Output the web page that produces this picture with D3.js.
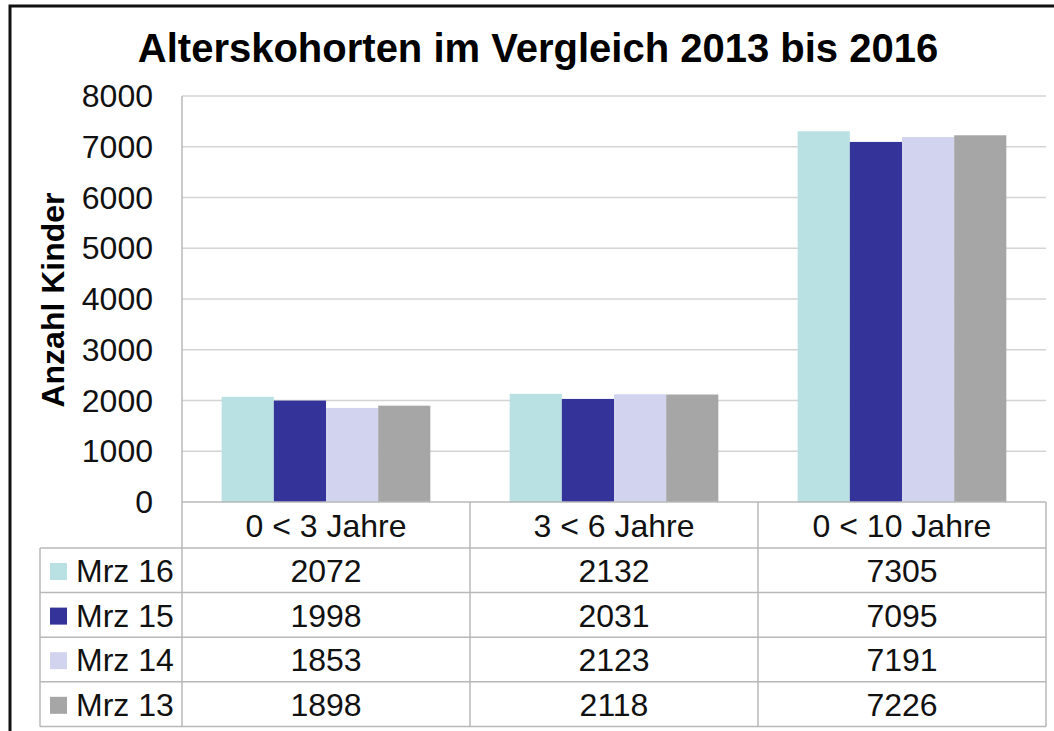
<!DOCTYPE html>
<html>
<head>
<meta charset="utf-8">
<script src="https://cdn.jsdelivr.net/npm/d3@7"></script>
<style>
  body { margin: 0; background: #fff; }
  svg { display: block; font-family: "Liberation Sans", Arial, sans-serif; }
</style>
</head>
<body>
<svg id="chart" width="1054" height="731"></svg>
<script>
// data
const categories = ["0 < 3 Jahre", "3 < 6 Jahre", "0 < 10 Jahre"];
const seriesNames = ["Mrz 16", "Mrz 15", "Mrz 14", "Mrz 13"];
const mrz16 = [2072, 2132, 7305];
const mrz15 = [1998, 2031, 7095];
const mrz14 = [1853, 2123, 7191];
const mrz13 = [1898, 2118, 7226];
const yTicks = [0, 1000, 2000, 3000, 4000, 5000, 6000, 7000, 8000];
const colors = ["#b9e0e2", "#333399", "#d1d3ef", "#a6a6a6"];

const values = [mrz16, mrz15, mrz14, mrz13];

const svg = d3.select("#chart");

// plot area
const plotL = 182, plotR = 1046, plotT = 96, plotB = 502;
const rowH = 44.6, headerBottom = 548;

// outer frame (cut at the right edge)
svg.append("path")
  .attr("d", "M10,731 L10,6 L1060,6")
  .attr("fill", "none")
  .attr("stroke", "#111")
  .attr("stroke-width", 3);

// title
svg.append("text")
  .attr("x", 538)
  .attr("y", 62)
  .attr("text-anchor", "middle")
  .attr("font-size", 40)
  .attr("font-weight", "bold")
  .text("Alterskohorten im Vergleich 2013 bis 2016");

const y = d3.scaleLinear().domain([0, 8000]).range([plotB, plotT]);
const x0 = d3.scaleBand().domain(categories).range([plotL, plotR]);
const x1 = d3.scaleBand().domain(seriesNames).range([0, x0.bandwidth()])
  .paddingInner(0).paddingOuter(0.76);

// gridlines
svg.append("g")
  .selectAll("line")
  .data(yTicks.filter(d => d > 0))
  .enter().append("line")
    .attr("x1", plotL).attr("x2", plotR)
    .attr("y1", d => y(d)).attr("y2", d => y(d))
    .attr("stroke", "#d4d4d4")
    .attr("stroke-width", 1.5);

// y tick labels
svg.append("g")
  .selectAll("text")
  .data(yTicks)
  .enter().append("text")
    .attr("x", 153)
    .attr("y", d => y(d) + 11)
    .attr("text-anchor", "end")
    .attr("font-size", 32)
    .attr("fill", "#111")
    .text(d => d);

// y axis title
svg.append("text")
  .attr("transform", "translate(64,300) rotate(-90)")
  .attr("text-anchor", "middle")
  .attr("font-size", 32)
  .attr("font-weight", "bold")
  .text("Anzahl Kinder");

// bars
const groups = svg.append("g")
  .selectAll("g")
  .data(categories)
  .enter().append("g")
    .attr("transform", d => "translate(" + x0(d) + ",0)");

groups.selectAll("rect")
  .data((c, ci) => seriesNames.map((s, si) => ({ s: s, si: si, v: values[si][ci] })))
  .enter().append("rect")
    .attr("x", d => x1(d.s))
    .attr("width", x1.bandwidth())
    .attr("y", d => y(d.v))
    .attr("height", d => plotB - y(d.v))
    .attr("fill", d => colors[d.si]);

// data table
const grid = svg.append("g")
  .attr("stroke", "#b8b8b8")
  .attr("stroke-width", 1.5);

const tableBottom = headerBottom + rowH * seriesNames.length;

// axis line + category dividers
[plotL].concat(categories.map(c => x0(c) + x0.bandwidth())).forEach(function(xx, i) {
  grid.append("line")
    .attr("x1", xx).attr("x2", xx)
    .attr("y1", i == 0 ? plotT : plotB).attr("y2", tableBottom);
});
// legend column left border
grid.append("line")
  .attr("x1", 40).attr("x2", 40)
  .attr("y1", headerBottom).attr("y2", tableBottom);
// baseline
grid.append("line")
  .attr("x1", plotL).attr("x2", plotR)
  .attr("y1", plotB).attr("y2", plotB);
// row lines
d3.range(seriesNames.length + 1).forEach(function(i) {
  grid.append("line")
    .attr("x1", 40).attr("x2", plotR)
    .attr("y1", headerBottom + i * rowH).attr("y2", headerBottom + i * rowH);
});

// category labels
svg.append("g")
  .selectAll("text")
  .data(categories)
  .enter().append("text")
    .attr("x", d => x0(d) + x0.bandwidth() / 2)
    .attr("y", 537)
    .attr("text-anchor", "middle")
    .attr("font-size", 32)
    .attr("fill", "#111")
    .text(d => d);

// legend + values rows
seriesNames.forEach(function(s, si) {
  const rowTop = headerBottom + si * rowH;
  svg.append("rect")
    .attr("x", 50).attr("y", rowTop + 15)
    .attr("width", 17).attr("height", 17)
    .attr("fill", colors[si]);
  svg.append("text")
    .attr("x", 76).attr("y", rowTop + 34)
    .attr("font-size", 32)
    .attr("fill", "#111")
    .text(s);
  categories.forEach(function(c, ci) {
    svg.append("text")
      .attr("x", x0(c) + x0.bandwidth() / 2)
      .attr("y", rowTop + 34)
      .attr("text-anchor", "middle")
      .attr("font-size", 32)
      .attr("fill", "#111")
      .text(values[si][ci]);
  });
});
</script>
</body>
</html>
